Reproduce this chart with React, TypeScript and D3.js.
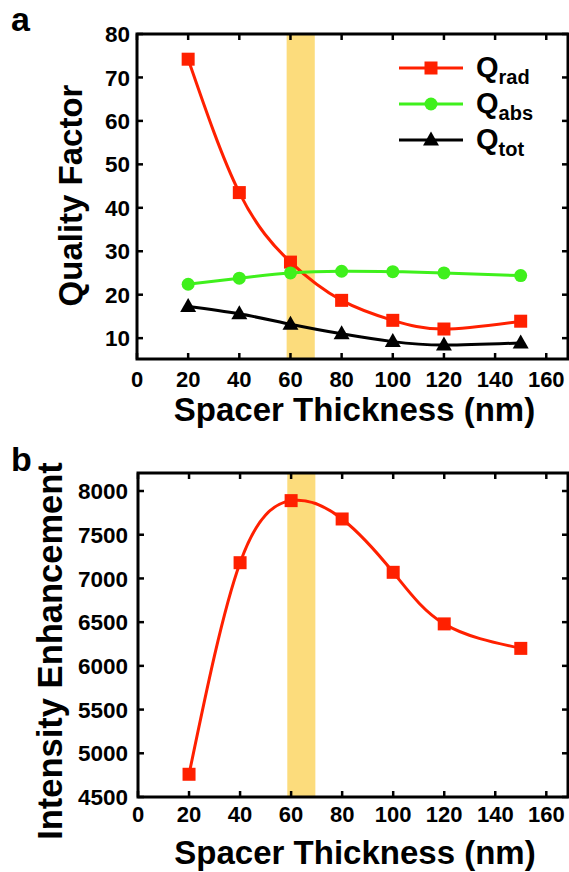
import React from 'react'
import * as d3 from 'd3'

// spacer thickness (nm)
const thickness = [20, 40, 60, 80, 100, 120, 150]
const qRad = [74.2, 43.5, 27.5, 18.7, 14.1, 12.1, 13.9]
const qAbs = [22.4, 23.8, 25.0, 25.4, 25.3, 25.0, 24.4]
const qTot = [17.3, 15.6, 13.2, 11.0, 9.2, 8.4, 8.9]
const enhancement = [4760, 7180, 7890, 7680, 7070, 6480, 6200]

const xTicks = [0, 20, 40, 60, 80, 100, 120, 140, 160]
const qTicks = [10, 20, 30, 40, 50, 60, 70, 80]
const eTicks = [4500, 5000, 5500, 6000, 6500, 7000, 7500, 8000]
const band = [58.5, 69.5]

const FONT = '"Liberation Sans", Arial, sans-serif'
const RED = '#ff2000'
const GREEN = '#3ff01c'
const BAND = '#fcdc7c'

type Marker = 'square' | 'circle' | 'triangle'

const Symbol = ({ x, y, type, color }: { x: number; y: number; type: Marker; color: string }) => {
  if (type === 'square') return <rect x={x - 6.5} y={y - 6.5} width={13} height={13} fill={color} />
  if (type === 'circle') return <circle cx={x} cy={y} r={6.5} fill={color} />
  return <path d={`M${x},${y - 8.5}L${x + 8},${y + 5.5}L${x - 8},${y + 5.5}Z`} fill={color} />
}

interface Series { values: number[]; color: string; marker: Marker }

const Panel = ({ top, bottom, left, right, yDomain, yTicks, series, yTitle, yTitleX, yTitleSize, yTitleShift, xLabelDy, xTitleY, letter, letterY, yLabelX }: any) => {
  const x = d3.scaleLinear().domain([0, 168.5]).range([left, right])
  const y = d3.scaleLinear().domain(yDomain).range([bottom, top])
  const line = d3.line<number>()
    .x((_, i) => x(thickness[i]))
    .y(d => y(d))
    .curve(d3.curveNatural)
  const tickLen = 6
  return (
    <g>
      <rect x={x(band[0])} y={top} width={x(band[1]) - x(band[0])} height={bottom - top} fill={BAND} />
      {(series as Series[]).map((s, k) => (
        <g key={k}>
          <path d={line(s.values) || ''} fill="none" stroke={s.color} strokeWidth={3} />
          {s.values.map((v, i) => <Symbol key={i} x={x(thickness[i])} y={y(v)} type={s.marker} color={s.color} />)}
        </g>
      ))}
      <rect x={left} y={top} width={right - left} height={bottom - top} fill="none" stroke="#000" strokeWidth={3} />
      {xTicks.map(t => (
        <g key={t}>
          <line x1={x(t)} x2={x(t)} y1={bottom} y2={bottom - tickLen} stroke="#000" strokeWidth={2.5} />
          <line x1={x(t)} x2={x(t)} y1={top} y2={top + tickLen} stroke="#000" strokeWidth={2.5} />
          <text x={x(t)} y={bottom + xLabelDy} textAnchor="middle" fontSize={22} fontWeight="bold">{t}</text>
        </g>
      ))}
      {(yTicks as number[]).map(t => (
        <g key={t}>
          <line x1={left} x2={left + tickLen} y1={y(t)} y2={y(t)} stroke="#000" strokeWidth={2.5} />
          <line x1={right} x2={right - tickLen} y1={y(t)} y2={y(t)} stroke="#000" strokeWidth={2.5} />
          <text x={yLabelX} y={y(t)} dy="0.36em" textAnchor="end" fontSize={22.5} fontWeight="bold">{t}</text>
        </g>
      ))}
      <text x={(left + right) / 2 + 2} y={xTitleY} textAnchor="middle" fontSize={33} fontWeight="bold">Spacer Thickness (nm)</text>
      <text transform={`translate(${yTitleX},${(top + bottom) / 2 + yTitleShift}) rotate(-90)`} textAnchor="middle" fontSize={yTitleSize} fontWeight="bold">{yTitle}</text>
      <text x={11} y={letterY} fontSize={34} fontWeight="bold">{letter}</text>
    </g>
  )
}

const legendItems = [
  { label: 'Q', sub: 'rad', color: RED, marker: 'square' as Marker },
  { label: 'Q', sub: 'abs', color: GREEN, marker: 'circle' as Marker },
  { label: 'Q', sub: 'tot', color: '#000', marker: 'triangle' as Marker },
]

const App = () => {
  return (
    <svg width={569} height={872} style={{ position: 'absolute', left: 0, top: 0, fontFamily: FONT }}>
      <rect width={569} height={872} fill="#fff" />
      <Panel
        top={34} bottom={359} left={137} right={568}
        yDomain={[5.2, 80]} yTicks={qTicks}
        series={[
          { values: qRad, color: RED, marker: 'square' },
          { values: qAbs, color: GREEN, marker: 'circle' },
          { values: qTot, color: '#000', marker: 'triangle' },
        ]}
        yTitle="Quality Factor" yTitleX={82} yTitleSize={33} yTitleShift={-1}
        xLabelDy={28} xTitleY={421}
        letter="a" letterY={31} yLabelX={130}
      />
      <Panel
        top={473} bottom={797} left={138} right={568}
        yDomain={[4500, 8206]} yTicks={eTicks}
        series={[{ values: enhancement, color: RED, marker: 'square' }]}
        yTitle="Intensity Enhancement" yTitleX={62} yTitleSize={34.5} yTitleShift={16}
        xLabelDy={25} xTitleY={864}
        letter="b" letterY={471} yLabelX={128}
      />
      <g>
        {legendItems.map((d, i) => {
          const ly = 68 + i * 36
          return (
            <g key={d.sub}>
              <line x1={399} x2={463} y1={ly} y2={ly} stroke={d.color} strokeWidth={3} />
              <Symbol x={431} y={ly} type={d.marker} color={d.color} />
              <text x={476} y={ly + 9} fontSize={29} fontWeight="bold">
                {d.label}
                <tspan fontSize={20} dy={7}>{d.sub}</tspan>
              </text>
            </g>
          )
        })}
      </g>
    </svg>
  )
}

export default App
